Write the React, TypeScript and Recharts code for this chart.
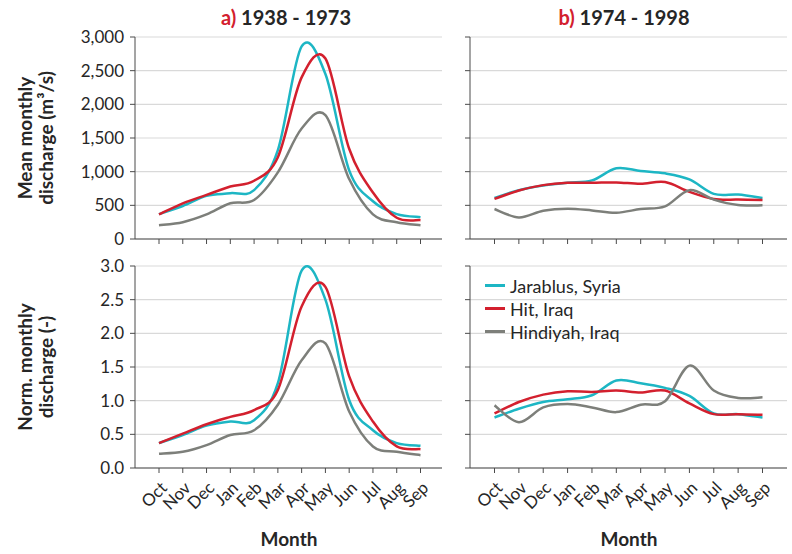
import React from 'react'
import { CartesianGrid, Legend, Line, LineChart, XAxis, YAxis } from 'recharts'

const MONTHS = ['Oct', 'Nov', 'Dec', 'Jan', 'Feb', 'Mar', 'Apr', 'May', 'Jun', 'Jul', 'Aug', 'Sep']
const STATIONS = ['Jarablus, Syria', 'Hit, Iraq', 'Hindiyah, Iraq']

// a) 1938 - 1973, mean monthly discharge (m3/s)
const JAR_MEAN_A = [370, 490, 640, 680, 725, 1320, 2860, 2450, 1020, 560, 370, 325]
const HIT_MEAN_A = [365, 530, 655, 780, 865, 1215, 2400, 2680, 1340, 690, 315, 280]
const HIN_MEAN_A = [205, 250, 365, 530, 580, 990, 1640, 1840, 890, 365, 250, 205]

// b) 1974 - 1998, mean monthly discharge (m3/s)
const JAR_MEAN_B = [610, 725, 795, 835, 870, 1050, 1010, 975, 885, 670, 660, 610]
const HIT_MEAN_B = [595, 720, 800, 835, 835, 840, 820, 845, 700, 595, 585, 580]
const HIN_MEAN_B = [445, 320, 420, 450, 425, 390, 445, 485, 725, 585, 505, 500]

// normalised monthly discharge (-)
const JAR_NORM_A = [0.37, 0.49, 0.63, 0.69, 0.71, 1.26, 2.93, 2.5, 1.01, 0.56, 0.37, 0.33]
const HIT_NORM_A = [0.37, 0.51, 0.65, 0.76, 0.86, 1.16, 2.4, 2.69, 1.36, 0.69, 0.32, 0.28]
const HIN_NORM_A = [0.21, 0.24, 0.34, 0.49, 0.56, 0.94, 1.6, 1.85, 0.84, 0.32, 0.24, 0.19]

const JAR_NORM_B = [0.75, 0.88, 0.98, 1.02, 1.08, 1.3, 1.26, 1.19, 1.07, 0.81, 0.8, 0.75]
const HIT_NORM_B = [0.81, 0.98, 1.09, 1.14, 1.13, 1.15, 1.12, 1.15, 0.96, 0.8, 0.8, 0.79]
const HIN_NORM_B = [0.93, 0.68, 0.9, 0.95, 0.9, 0.83, 0.94, 0.99, 1.52, 1.15, 1.04, 1.05]

const MEAN_TICKS = [0, 500, 1000, 1500, 2000, 2500, 3000]
const NORM_TICKS = [0, 0.5, 1, 1.5, 2, 2.5, 3]

const CYAN = '#1db6c4'
const RED = '#d3202e'
const GRAY = '#7d7f7a'
const AXIS = '#4a4a4a'
const GRID = '#d9d9d9'
const INK = '#262626'
const FONT = 'Lato, "Open Sans", sans-serif'

const rows = (jar: number[], hit: number[], hin: number[]) =>
  MONTHS.map((month, i) => ({ month, jar: jar[i], hit: hit[i], hin: hin[i] }))

// excel-ish smoothed line (catmull-rom through the points)
function smooth(context: any) {
  let pts: number[][] = []
  return {
    areaStart() {},
    areaEnd() {},
    lineStart() {
      pts = []
    },
    point(x: number, y: number) {
      pts.push([+x, +y])
    },
    lineEnd() {
      const n = pts.length
      if (!n) return
      context.moveTo(pts[0][0], pts[0][1])
      for (let i = 0; i < n - 1; i++) {
        const p0 = pts[i - 1] || pts[i]
        const p1 = pts[i]
        const p2 = pts[i + 1]
        const p3 = pts[i + 2] || p2
        context.bezierCurveTo(
          p1[0] + (p2[0] - p0[0]) / 6,
          p1[1] + (p2[1] - p0[1]) / 6,
          p2[0] - (p3[0] - p1[0]) / 6,
          p2[1] - (p3[1] - p1[1]) / 6,
          p2[0],
          p2[1],
        )
      }
    },
  }
}

const NoTick = () => <g />

function MonthTick({ x, y, payload }: any) {
  const ax = x + 9
  const ay = y + 14
  return (
    <text x={ax} y={ay} textAnchor="end" transform={`rotate(-45, ${ax}, ${ay})`} fontSize={17} fill={INK} fontFamily={FONT}>
      {payload.value}
    </text>
  )
}

function LegendBox({ payload }: any) {
  const items = [...(payload || [])].sort((a: any, b: any) => STATIONS.indexOf(a.value) - STATIONS.indexOf(b.value))
  return (
    <div style={{ fontFamily: FONT, fontSize: 18, color: INK }}>
      {items.map((e: any) => (
        <div key={e.value} style={{ display: 'flex', alignItems: 'center', height: 23, whiteSpace: 'nowrap' }}>
          <span style={{ width: 20, height: 2.5, background: e.color, marginRight: 5 }} />
          <span>{e.value}</span>
        </div>
      ))}
    </div>
  )
}

type PanelProps = {
  left: number
  top: number
  plotW: number
  plotH: number
  padL: number
  padR: number
  data: any[]
  max: number
  ticks: number[]
  fmt: (v: number) => string
  showY: boolean
  showX: boolean
  legend?: boolean
}

function Panel({ left, top, plotW, plotH, padL, padR, data, max, ticks, fmt, showY, showX, legend }: PanelProps) {
  const yW = showY ? 130 : 20
  const xH = showX ? 60 : 20
  return (
    <div style={{ position: 'absolute', left: left - yW, top: top - 10 }}>
      <LineChart width={yW + plotW + 10} height={10 + plotH + xH} data={data} margin={{ top: 10, right: 10, bottom: 0, left: 0 }}>
        <CartesianGrid vertical={false} stroke={GRID} strokeWidth={1.2} />
        <XAxis
          dataKey="month"
          interval={0}
          padding={{ left: padL, right: padR }}
          height={xH}
          axisLine={{ stroke: AXIS }}
          tickLine={{ stroke: AXIS }}
          tickSize={5}
          tick={showX ? MonthTick : NoTick}
        />
        <XAxis xAxisId="top" orientation="top" dataKey="month" height={0} tick={false} tickLine={false} axisLine={{ stroke: AXIS }} />
        <YAxis
          domain={[0, max]}
          ticks={ticks}
          width={yW}
          axisLine={{ stroke: AXIS }}
          tickLine={{ stroke: AXIS }}
          tickSize={5}
          tickMargin={6}
          tickFormatter={fmt}
          tick={showY ? { fontSize: 17, fill: INK, fontFamily: FONT } : NoTick}
        />
        <YAxis yAxisId="right" orientation="right" width={0} tick={false} tickLine={false} axisLine={{ stroke: AXIS }} />
        <Line dataKey="jar" name={STATIONS[0]} type={smooth as any} stroke={CYAN} strokeWidth={2.5} dot={false} isAnimationActive={false} />
        <Line dataKey="hit" name={STATIONS[1]} type={smooth as any} stroke={RED} strokeWidth={2.5} dot={false} isAnimationActive={false} />
        <Line dataKey="hin" name={STATIONS[2]} type={smooth as any} stroke={GRAY} strokeWidth={2.5} dot={false} isAnimationActive={false} />
        {legend && (
          <Legend
            layout="vertical"
            align="center"
            verticalAlign="middle"
            wrapperStyle={{ left: 485 - (left - yW), top: 274 - (top - 10), width: 'auto' }}
            content={LegendBox}
          />
        )}
      </LineChart>
    </div>
  )
}

const meanFmt = (v: number) => v.toLocaleString('en-US')
const normFmt = (v: number) => v.toFixed(1)

export default function App() {
  return (
    <div style={{ position: 'absolute', left: 0, top: 0, width: 792, height: 554, background: '#fff', fontFamily: FONT }}>
      <Panel left={135} top={37} plotW={307} plotH={202} padL={24} padR={21.5} data={rows(JAR_MEAN_A, HIT_MEAN_A, HIN_MEAN_A)} max={3000} ticks={MEAN_TICKS} fmt={meanFmt} showY showX={false} />
      <Panel left={470} top={37} plotW={317} plotH={202} padL={24.5} padR={24.5} data={rows(JAR_MEAN_B, HIT_MEAN_B, HIN_MEAN_B)} max={3000} ticks={MEAN_TICKS} fmt={meanFmt} showY={false} showX={false} />
      <Panel left={135} top={266} plotW={307} plotH={202} padL={24} padR={21.5} data={rows(JAR_NORM_A, HIT_NORM_A, HIN_NORM_A)} max={3} ticks={NORM_TICKS} fmt={normFmt} showY showX />
      <Panel left={470} top={266} plotW={317} plotH={202} padL={24.5} padR={24.5} data={rows(JAR_NORM_B, HIT_NORM_B, HIN_NORM_B)} max={3} ticks={NORM_TICKS} fmt={normFmt} showY={false} showX legend />
      <svg width={792} height={554} style={{ position: 'absolute', left: 0, top: 0, pointerEvents: 'none' }} fontFamily={FONT} fill={INK}>
        <text x={286} y={24.5} textAnchor="middle" fontSize={20} fontWeight="bold">
          <tspan fill={RED}>a)</tspan>
          <tspan> 1938 - 1973</tspan>
        </text>
        <text x={624} y={24.5} textAnchor="middle" fontSize={20} fontWeight="bold">
          <tspan fill={RED}>b)</tspan>
          <tspan> 1974 - 1998</tspan>
        </text>
        <g fontSize={19} fontWeight="bold" textAnchor="middle">
          <text x={32} y={138} transform="rotate(-90, 32, 138)">Mean monthly</text>
          <text x={52.5} y={138} transform="rotate(-90, 52.5, 138)">discharge (m³/s)</text>
          <text x={32} y={367} transform="rotate(-90, 32, 367)">Norm. monthly</text>
          <text x={52.5} y={367} transform="rotate(-90, 52.5, 367)">discharge (-)</text>
          <text x={289} y={546}>Month</text>
          <text x={629} y={546}>Month</text>
        </g>
      </svg>
    </div>
  )
}
